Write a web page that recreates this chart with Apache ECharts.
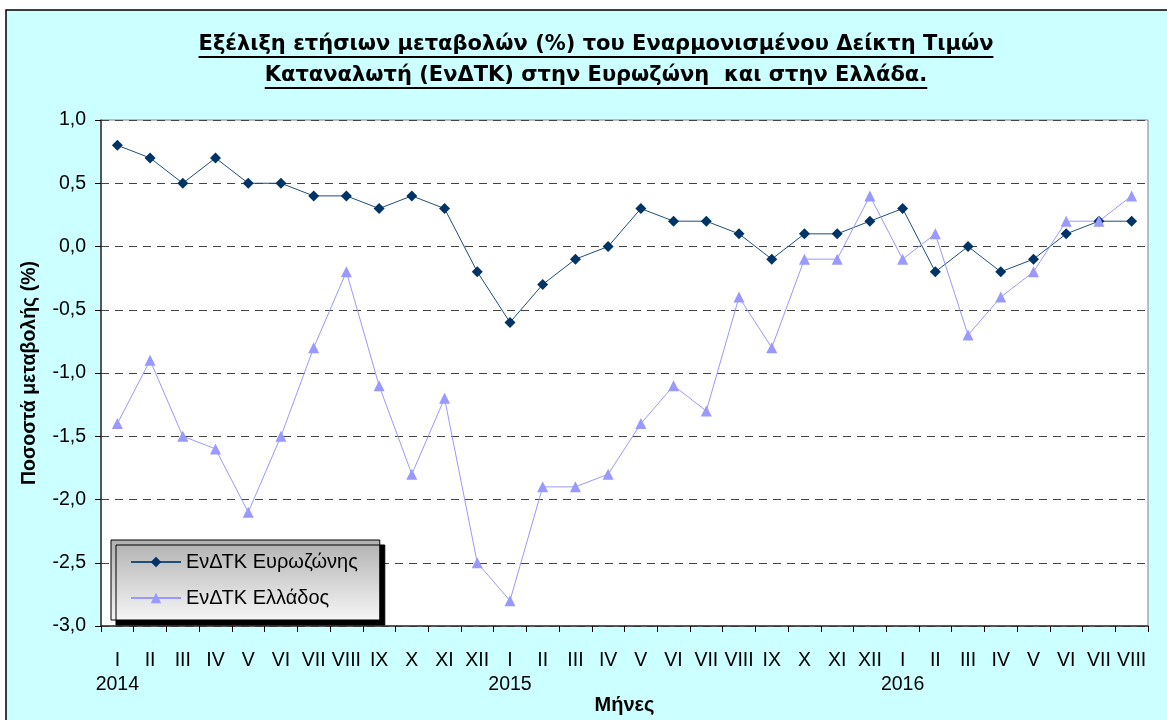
<!DOCTYPE html>
<html>
<head>
<meta charset="utf-8">
<script src="https://cdn.jsdelivr.net/npm/echarts@6/dist/echarts.min.js"></script>
<style>html,body{margin:0;padding:0;background:#fff}#c{width:1167px;height:720px}</style>
</head>
<body>
<div id="c"></div>
<script>
const months = ['I','II','III','IV','V','VI','VII','VIII','IX','X','XI','XII',
  'I','II','III','IV','V','VI','VII','VIII','IX','X','XI','XII',
  'I','II','III','IV','V','VI','VII','VIII'];
const years = {0:'2014', 12:'2015', 24:'2016'};
const eurozone = [0.8,0.7,0.5,0.7,0.5,0.5,0.4,0.4,0.3,0.4,0.3,-0.2,
  -0.6,-0.3,-0.1,0.0,0.3,0.2,0.2,0.1,-0.1,0.1,0.1,0.2,
  0.3,-0.2,0.0,-0.2,-0.1,0.1,0.2,0.2];
const greece = [-1.4,-0.9,-1.5,-1.6,-2.1,-1.5,-0.8,-0.2,-1.1,-1.8,-1.2,-2.5,
  -2.8,-1.9,-1.9,-1.8,-1.4,-1.1,-1.3,-0.4,-0.8,-0.1,-0.1,0.4,
  -0.1,0.1,-0.7,-0.4,-0.2,0.2,0.2,0.4];
const seriesNames = ['ΕνΔΤΚ Ευρωζώνης','ΕνΔΤΚ Ελλάδος'];
const titleLines = ['Εξέλιξη ετήσιων μεταβολών (%) του Εναρμονισμένου Δείκτη Τιμών',
  'Καταναλωτή (ΕνΔΤΚ) στην Ευρωζώνη  και στην Ελλάδα.'];

const FONT = '"Liberation Sans", Arial, sans-serif';
const TFONT = '"DejaVu Sans", sans-serif';
const mc = document.createElement('canvas').getContext('2d');
mc.font = 'bold 20px ' + TFONT;
const tSize = Math.min(21, 20 * 798 / mc.measureText(titleLines[0]).width);
const titleFont = 'bold ' + tSize.toFixed(2) + 'px ' + TFONT;
mc.font = titleFont;
const cx = 596;
const titleY = [45, 76];
const gfx = [{
  type: 'rect', z: -10, shape: {x: 6, y: 10, width: 1175, height: 720},
  style: {fill: '#CCFFFF', stroke: '#000', lineWidth: 1.5}
}];
titleLines.forEach((t, i) => {
  const w = mc.measureText(t).width;
  gfx.push({type: 'text', z: 10, x: cx, y: titleY[i],
    style: {text: t, font: titleFont, fill: '#000', textAlign: 'center', textVerticalAlign: 'middle'}});
  gfx.push({type: 'line', z: 10, shape: {x1: cx - w/2, y1: titleY[i] + 12, x2: cx + w/2, y2: titleY[i] + 12},
    style: {stroke: '#000', lineWidth: 2}});
});

const chart = echarts.init(document.getElementById('c'));
chart.setOption({
  animation: false,
  backgroundColor: '#fff',
  graphic: gfx,
  grid: {left: 101, right: 19, top: 120, bottom: 94, show: true, backgroundColor: '#fff',
    borderColor: '#808080', borderWidth: 1, containLabel: false, outerBoundsMode: 'none'},
  legend: {
    orient: 'vertical', left: 111, top: 540,
    padding: [12, 22, 12, 19], itemGap: 16, itemWidth: 50, itemHeight: 13,
    backgroundColor: new echarts.graphic.LinearGradient(0, 0, 0, 1,
      [{offset: 0, color: '#b0b0b0'}, {offset: 1, color: '#f6f6f6'}]),
    borderColor: '#000', borderWidth: 1,
    shadowColor: '#000', shadowBlur: 0, shadowOffsetX: 5, shadowOffsetY: 5,
    textStyle: {color: '#000', fontSize: 20, fontFamily: FONT},
    data: seriesNames
  },
  xAxis: {
    type: 'category', data: months, boundaryGap: true,
    name: 'Μήνες', nameLocation: 'middle', nameGap: 69, nameMoveOverlap: false,
    nameTextStyle: {fontWeight: 'bold', fontSize: 20, color: '#000', fontFamily: FONT},
    axisLine: {onZero: false, lineStyle: {color: '#333', width: 1.5}},
    axisTick: {show: true, length: 6, lineStyle: {color: '#000'}},
    axisLabel: {interval: 0, margin: 23, color: '#000', fontSize: 19.5, fontFamily: FONT, lineHeight: 24,
      formatter: (v, i) => years[i] ? v + '\n' + years[i] : v}
  },
  yAxis: {
    type: 'value', min: -3, max: 1, interval: 0.5,
    name: 'Ποσοστά μεταβολής (%)', nameLocation: 'middle', nameGap: 61, nameRotate: 90,
    nameMoveOverlap: false,
    nameTextStyle: {fontWeight: 'bold', fontSize: 19.5, color: '#000', fontFamily: FONT},
    axisLine: {show: true, lineStyle: {color: '#333', width: 1.5}},
    axisTick: {show: true, length: 6, lineStyle: {color: '#000'}},
    axisLabel: {margin: 15, color: '#000', fontSize: 19.5, fontFamily: FONT,
      formatter: v => v.toFixed(1).replace('.', ',')},
    splitLine: {show: true, lineStyle: {color: '#444', type: [8, 6], width: 1}}
  },
  series: [
    {name: seriesNames[0], type: 'line', data: eurozone, symbol: 'diamond', symbolSize: 11,
      itemStyle: {color: '#003366'}, lineStyle: {color: '#1f4e79', width: 1}},
    {name: seriesNames[1], type: 'line', data: greece, symbol: 'triangle', symbolSize: 11,
      itemStyle: {color: '#9999FF'}, lineStyle: {color: '#9999FF', width: 1}}
  ]
});
</script>
</body>
</html>
